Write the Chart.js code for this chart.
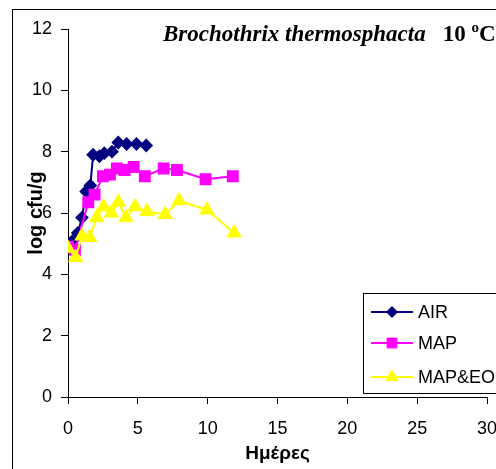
<!DOCTYPE html>
<html>
<head>
<meta charset="utf-8">
<script src="https://cdn.jsdelivr.net/npm/chart.js@4"></script>
<style>
  html, body { margin: 0; padding: 0; background: #fff; }
  #chart { display: block; }
</style>
</head>
<body>
<canvas id="chart" width="496" height="469"></canvas>
<script>
// data (days, log cfu/g)
var airDays = [0.35, 0.7, 1.0, 1.3, 1.6, 1.8, 2.25, 2.6, 3.15, 3.6, 4.2, 4.9, 5.6];
var airLog  = [5.1, 5.35, 5.85, 6.7, 6.9, 7.9, 7.85, 7.95, 8.0, 8.3, 8.25, 8.25, 8.2];

var mapDays = [0, 0.5, 1.45, 1.9, 2.5, 3.0, 3.5, 4.05, 4.7, 5.5, 6.85, 7.8, 9.85, 11.8];
var mapLog  = [4.9, 4.8, 6.35, 6.6, 7.2, 7.25, 7.45, 7.4, 7.5, 7.2, 7.45, 7.4, 7.1, 7.2];

var eoDays = [0, 0.55, 1.0, 1.55, 2.05, 2.55, 3.1, 3.6, 4.15, 4.8, 5.65, 6.95, 7.95, 9.95, 11.9];
var eoLog  = [4.85, 4.55, 5.25, 5.2, 5.85, 6.2, 6.0, 6.35, 5.85, 6.2, 6.05, 5.95, 6.4, 6.1, 5.35];

var seriesNames = ['AIR', 'MAP', 'MAP&EO'];
var xTicks = [0, 5, 10, 15, 20, 25, 30];
var yTicks = [0, 2, 4, 6, 8, 10, 12];

function pts(xs, ys) {
    return xs.map(function (x, i) { return { x: x, y: ys[i] }; });
}

var sansFont = '"Liberation Sans", Arial, sans-serif';
var serifFont = '"Liberation Serif", "Times New Roman", serif';

// outer frame
var framePlugin = {
    id: 'frame',
    beforeDraw: function (chart) {
        var c = chart.ctx;
        c.save();
        c.strokeStyle = '#000';
        c.lineWidth = 1;
        c.strokeRect(12.5, 9.5, 600, 600);
        c.restore();
    }
};

// title with italic species name and superscript degree
var titlePlugin = {
    id: 'mixedTitle',
    afterDraw: function (chart) {
        var c = chart.ctx;
        c.save();
        c.fillStyle = '#000';
        c.textBaseline = 'alphabetic';
        var x = 163, y = 41;
        c.font = 'italic bold 23px ' + serifFont;
        c.fillText('Brochothrix thermosphacta', x, y);
        x += c.measureText('Brochothrix thermosphacta').width + 17;
        c.font = 'bold 23px ' + serifFont;
        c.fillText('10 ', x, y);
        x += c.measureText('10 ').width;
        c.font = 'bold 15px ' + serifFont;
        c.fillText('o', x, y - 9);
        x += c.measureText('o').width;
        c.font = 'bold 23px ' + serifFont;
        c.fillText('C', x, y);
        c.restore();
    }
};

// boxed legend, lower right
var legendPlugin = {
    id: 'boxLegend',
    afterDraw: function (chart) {
        var c = chart.ctx;
        var rows = [312, 343, 377];
        c.save();
        c.fillStyle = '#fff';
        c.fillRect(363, 293, 200, 100);
        c.strokeStyle = '#000';
        c.lineWidth = 1;
        c.strokeRect(363.5, 293.5, 200, 100);
        chart.data.datasets.forEach(function (ds, i) {
            var y = rows[i];
            c.strokeStyle = ds.borderColor;
            c.lineWidth = ds.borderWidth;
            c.beginPath();
            c.moveTo(371, y);
            c.lineTo(413, y);
            c.stroke();
            c.fillStyle = ds.pointBackgroundColor;
            c.strokeStyle = ds.pointBorderColor;
            c.lineWidth = 1;
            Chart.helpers.drawPoint(c, { pointStyle: ds.pointStyle, radius: ds.pointRadius, borderWidth: 1, rotation: 0 }, 392, y);
            c.fillStyle = '#000';
            c.font = '18px ' + sansFont;
            c.textBaseline = 'middle';
            c.fillText(ds.label, 418, y + 1);
        });
        c.restore();
    }
};

var ctx = document.getElementById('chart').getContext('2d');
var myChart = new Chart(ctx, {
    type: 'line',
    data: {
        datasets: [{
            label: seriesNames[0],
            data: pts(airDays, airLog),
            borderColor: '#000080',
            backgroundColor: '#000080',
            pointBackgroundColor: '#000080',
            pointBorderColor: '#000080',
            borderWidth: 2,
            pointStyle: 'rectRot',
            pointRadius: 5.5,
            order: 2
        }, {
            label: seriesNames[1],
            data: pts(mapDays, mapLog),
            borderColor: '#ff00ff',
            backgroundColor: '#ff00ff',
            pointBackgroundColor: '#ff00ff',
            pointBorderColor: '#ff00ff',
            borderWidth: 2,
            pointStyle: 'rect',
            pointRadius: 7,
            order: 1
        }, {
            label: seriesNames[2],
            data: pts(eoDays, eoLog),
            borderColor: '#ffff00',
            backgroundColor: '#ffff00',
            pointBackgroundColor: '#ffff00',
            pointBorderColor: '#ffff00',
            borderWidth: 2,
            pointStyle: 'triangle',
            pointRadius: 7,
            order: 0
        }]
    },
    options: {
        responsive: false,
        animation: false,
        devicePixelRatio: 1,
        layout: { padding: { left: 0, right: 6, top: 29, bottom: 0 } },
        plugins: {
            legend: { display: false },
            tooltip: { enabled: false }
        },
        elements: {
            line: { tension: 0 }
        },
        scales: {
            x: {
                type: 'linear',
                min: 0,
                max: 30,
                afterBuildTicks: function (s) { s.ticks = xTicks.map(function (v) { return { value: v }; }); },
                afterFit: function (s) { s.height = 72; s.paddingLeft = 0; s.paddingRight = 0; },
                ticks: { color: '#000', font: { family: sansFont, size: 18 }, padding: 14, maxRotation: 0, autoSkip: false },
                grid: { display: true, drawOnChartArea: false, drawTicks: true, tickLength: 7, color: '#000' },
                border: { display: true, color: '#000', width: 1 },
                title: { display: true, text: 'Ημέρες', color: '#000', font: { family: sansFont, size: 19, weight: 'bold' }, padding: { top: 0, bottom: 4 } }
            },
            y: {
                min: 0,
                max: 12,
                afterBuildTicks: function (s) { s.ticks = yTicks.map(function (v) { return { value: v }; }); },
                afterFit: function (s) { s.width = 68; s.paddingTop = 0; s.paddingBottom = 0; },
                ticks: { color: '#000', font: { family: sansFont, size: 18 }, padding: 9, autoSkip: false },
                grid: { display: true, drawOnChartArea: false, drawTicks: true, tickLength: 7, color: '#000' },
                border: { display: true, color: '#000', width: 1 },
                title: { display: true, text: 'log cfu/g', color: '#000', font: { family: sansFont, size: 20, weight: 'bold' }, padding: { top: 24, bottom: 0 } }
            }
        }
    },
    plugins: [framePlugin, titlePlugin, legendPlugin]
});
</script>
</body>
</html>
